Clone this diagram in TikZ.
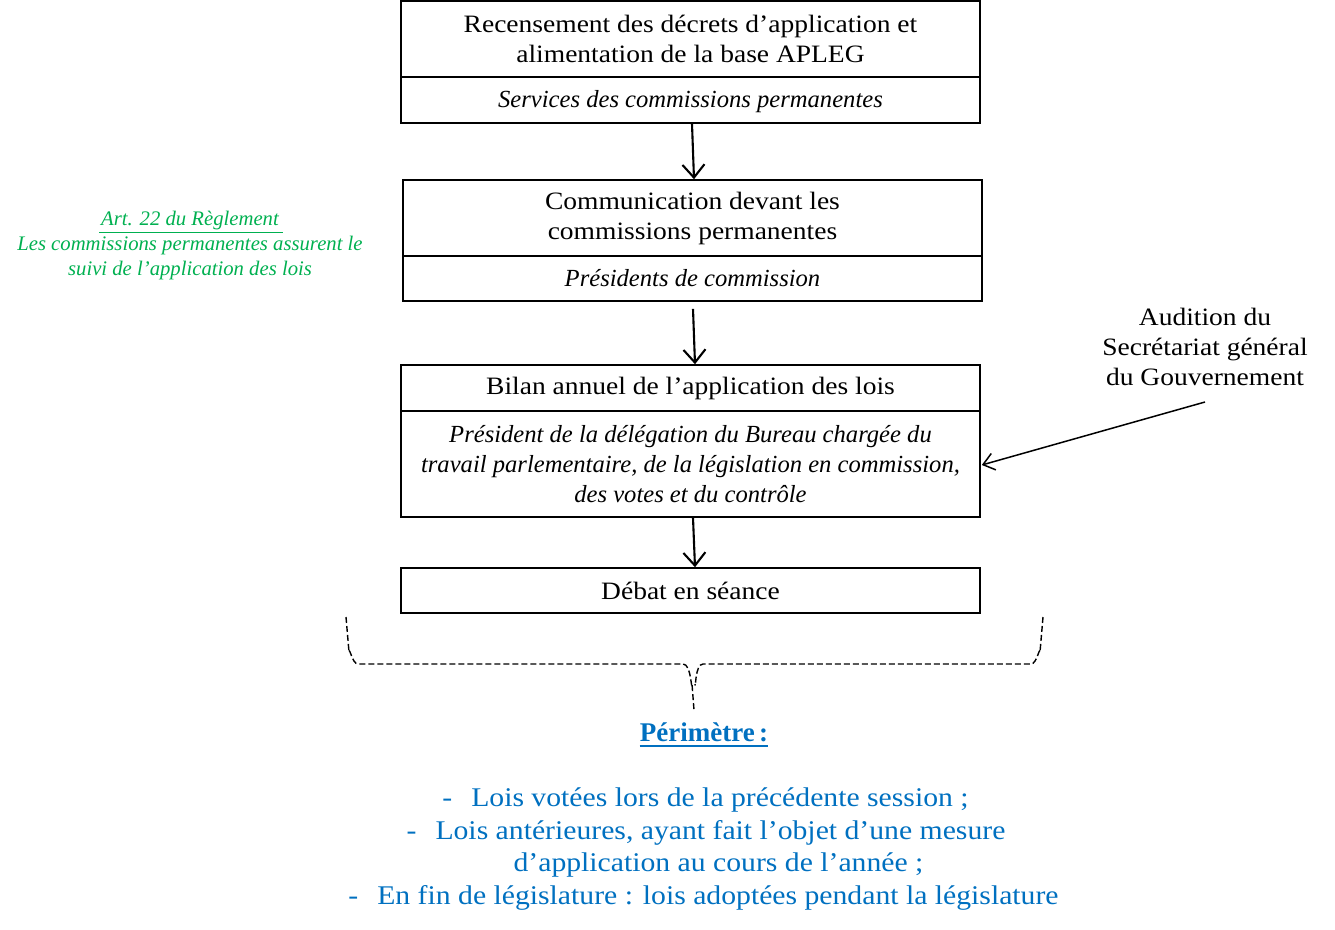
\documentclass[tikz,border=0pt]{standalone}
\usepackage{fontspec}
\setmainfont{Liberation Serif}
\newfontfamily\wideserif[FakeStretch=1.1]{Liberation Serif}
\usetikzlibrary{arrows.meta}
\definecolor{vert}{RGB}{0,176,80}
\definecolor{bleu}{RGB}{0,112,192}
\begin{document}
\begin{tikzpicture}[x=1pt,y=-1pt,
  boxpart/.style={draw,line width=1.6pt,minimum width=579pt,inner sep=0pt,align=center,font=\wideserif\fontsize{25}{30}\selectfont},
  boxital/.style={boxpart,font=\fontsize{24.6}{30}\selectfont\itshape},
  flowarr/.style={line width=2.1pt,-{Straight Barb[length=13pt,width=22pt,line width=2.1pt]}},
  sidetext/.style={align=center,inner sep=0pt,font=\wideserif\fontsize{25}{30}\selectfont},
  greentext/.style={align=center,inner sep=0pt,text=vert,font=\fontsize{20.7}{25}\selectfont\itshape},
  bluetext/.style={inner sep=0pt,text=bleu,font=\wideserif\fontsize{27}{32}\selectfont},
  bracket/.style={line width=1.4pt,dash pattern=on 6pt off 3pt}
]
\useasboundingbox (0,0) rectangle (1335,929);
% boxes
\node[boxpart,minimum height=76pt] (b1t) at (690.5,39) {Recensement des décrets d’application et\\alimentation de la base APLEG};
\node[boxital,minimum height=46pt,text depth=2pt] (b1b) at (690.5,100) {Services des commissions permanentes};
\node[boxpart,minimum height=76pt] (b2t) at (692.5,218) {Communication devant les\\commissions permanentes};
\node[boxital,minimum height=45pt] (b2b) at (692.5,278.5) {Présidents de commission};
\node[boxpart,minimum height=46pt] (b3t) at (690.5,388) {Bilan annuel de l’application des lois};
\node[boxital,minimum height=106pt] (b3b) at (690.5,464) {Président de la délégation du Bureau chargée du\\travail parlementaire, de la législation en commission,\\des votes et du contrôle};
\node[boxpart,minimum height=45pt] (b4) at (690.5,590.5) {Débat en séance};
% arrows
\draw[flowarr] ([xshift=1.5pt]b1b.south) -- ([xshift=1.5pt]b2t.north);
\draw[flowarr] ([shift={(0.5pt,-7pt)}]b2b.south) -- ([xshift=4.5pt]b3t.north);
\draw[flowarr] ([xshift=2.5pt]b3b.south) -- ([xshift=4.5pt]b4.north);
% side texts
\node[greentext] (art) at (190,246) {Art. 22 du Règlement\\Les commissions permanentes assurent le\\suivi de l’application des lois};
\draw[vert,line width=0.8pt] (99,232) -- (283,232);
\node[sidetext] (aud) at (1205,347) {Audition du\\Secrétariat général\\du Gouvernement};
\coordinate (audstart) at (1205,402);
\draw[line width=1.5pt,-{Straight Barb[length=11pt,width=17pt,line width=1.5pt]}] (audstart) -- ([shift={(1pt,-1pt)}]b3b.east);
% bracket
\draw[bracket] (346,617) -- (349,652) to[out=85,in=180] (358,664) -- (683,664) to[out=0,in=-95] (692,684) -- (694,710);
\draw[bracket] (1043,617) -- (1040,652) to[out=95,in=0] (1031,664) -- (703,664) to[out=180,in=-85] (695,684);
% perimetre
\node[inner sep=0pt,text=bleu,font=\fontsize{27}{30}\selectfont\bfseries,anchor=base] (per) at (704,741) {Périmètre\,:};
\draw[bleu,line width=1.8pt] ([yshift=-5pt]per.base west) -- ([yshift=-5pt]per.base east);
\node[bluetext,anchor=base] (l1) at (705.5,806) {-\hspace{19pt}Lois votées lors de la précédente session ;};
\node[bluetext,anchor=base] (l2) at (706,839) {-\hspace{19pt}Lois antérieures, ayant fait l’objet d’une mesure};
\node[bluetext,anchor=base] (l3) at (718.5,871) {d’application au cours de l’année ;};
\node[bluetext,anchor=base] (l4) at (703.5,904) {-\hspace{19pt}En fin de législature : lois adoptées pendant la législature};
\end{tikzpicture}
\end{document}
